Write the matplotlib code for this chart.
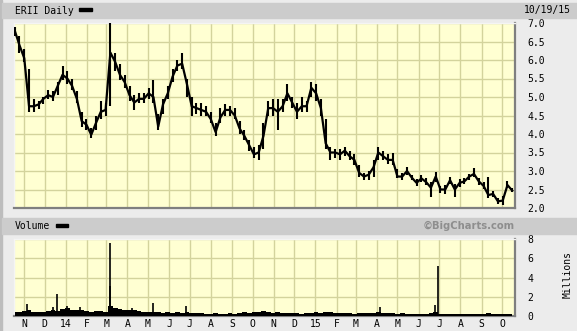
import numpy as np
import pandas as pd
import matplotlib
matplotlib.use("Agg")
import matplotlib.pyplot as plt
from matplotlib.patches import Rectangle

plt.rcParams["font.family"] = ["DejaVu Sans Mono"]

# weekly readings (Fridays), price in $ and daily volume level in millions
weeks = pd.date_range("2013-10-18", periods=105, freq="W-FRI")

close = [6.8, 6.4, 6.05, 4.75, 4.75, 4.8, 4.95, 5.05, 5.0, 5.3,
         5.6, 5.5, 5.3, 4.95, 4.35, 4.25, 3.98, 4.3, 4.6, 4.65,
         6.2, 5.95, 5.6, 5.4, 5.05, 4.85, 4.95, 4.95, 5.1, 5.0,
         4.2, 4.8, 5.1, 5.55, 5.85, 5.9, 5.35, 4.75, 4.7, 4.65,
         4.6, 4.4, 4.05, 4.45, 4.65, 4.65, 4.5, 4.15, 3.95, 3.7,
         3.45, 3.5, 3.95, 4.7, 4.7, 4.6, 4.75, 5.1, 4.85, 4.6,
         4.75, 4.75, 5.25, 5.1, 4.7, 3.75, 3.5, 3.5, 3.45, 3.55,
         3.4, 3.3, 2.95, 2.85, 2.9, 3.1, 3.5, 3.4, 3.3, 3.3,
         2.85, 2.85, 3.0, 2.82, 2.68, 2.8, 2.7, 2.55, 2.85, 2.5,
         2.5, 2.75, 2.5, 2.68, 2.72, 2.85, 2.92, 2.72, 2.6, 2.35,
         2.38, 2.18, 2.2, 2.62, 2.47]

high = [6.9, 6.65, 6.3, 5.75, 4.95, 4.9, 5.0, 5.2, 5.15, 5.4,
        5.85, 5.7, 5.5, 5.15, 4.6, 4.4, 4.15, 4.5, 4.9, 4.85,
        7.0, 6.2, 5.9, 5.6, 5.3, 5.05, 5.1, 5.1, 5.25, 5.45,
        4.55, 4.95, 5.3, 5.75, 6.0, 6.2, 5.5, 5.0, 4.85, 4.85,
        4.75, 4.6, 4.3, 4.7, 4.8, 4.75, 4.7, 4.35, 4.1, 3.85,
        3.65, 3.7, 4.3, 4.9, 4.95, 4.95, 4.95, 5.35, 5.0, 4.85,
        5.0, 4.9, 5.4, 5.35, 4.95, 4.4, 3.65, 3.6, 3.6, 3.65,
        3.55, 3.45, 3.15, 2.95, 3.0, 3.3, 3.65, 3.55, 3.45, 3.5,
        3.05, 2.95, 3.1, 2.9, 2.78, 2.9, 2.8, 2.7, 2.98, 2.6,
        2.62, 2.85, 2.65, 2.78, 2.8, 2.92, 3.08, 2.82, 2.7, 2.85,
        2.45, 2.28, 2.32, 2.72, 2.55]

low = [6.65, 6.2, 5.95, 4.6, 4.6, 4.68, 4.8, 4.95, 4.9, 5.05,
       5.45, 5.35, 5.2, 4.85, 4.2, 4.1, 3.88, 4.1, 4.4, 4.5,
       4.75, 5.7, 5.45, 5.25, 4.9, 4.65, 4.85, 4.85, 4.95, 4.85,
       4.1, 4.55, 4.95, 5.4, 5.7, 5.75, 5.0, 4.5, 4.55, 4.5,
       4.5, 4.3, 3.95, 4.3, 4.5, 4.5, 4.4, 4.0, 3.85, 3.55,
       3.35, 3.3, 3.6, 4.5, 4.5, 4.1, 4.6, 4.9, 4.7, 4.4,
       4.6, 4.6, 5.0, 4.9, 4.5, 3.6, 3.3, 3.35, 3.3, 3.4,
       3.3, 3.15, 2.85, 2.75, 2.75, 2.85, 3.3, 3.3, 3.2, 3.15,
       2.8, 2.75, 2.9, 2.75, 2.6, 2.7, 2.62, 2.3, 2.7, 2.4,
       2.38, 2.65, 2.3, 2.58, 2.65, 2.75, 2.85, 2.62, 2.52, 2.28,
       2.3, 2.12, 2.08, 2.55, 2.42]

volume = [0.4, 0.45, 0.55, 0.6, 0.45, 0.4, 0.45, 0.55, 0.6, 0.5,
          0.7, 0.8, 0.65, 0.6, 0.65, 0.5, 0.45, 0.55, 0.5, 0.45,
          1.0, 0.8, 0.7, 0.65, 0.6, 0.65, 0.5, 0.45, 0.4, 0.45,
          0.4, 0.35, 0.4, 0.35, 0.4, 0.35, 0.45, 0.35, 0.3, 0.3,
          0.25, 0.25, 0.3, 0.25, 0.25, 0.3, 0.25, 0.35, 0.4, 0.35,
          0.45, 0.4, 0.5, 0.45, 0.35, 0.4, 0.35, 0.35, 0.3, 0.35,
          0.25, 0.3, 0.35, 0.4, 0.35, 0.45, 0.4, 0.35, 0.3, 0.3,
          0.3, 0.25, 0.35, 0.3, 0.3, 0.35, 0.4, 0.35, 0.3, 0.3,
          0.25, 0.3, 0.25, 0.25, 0.25, 0.2, 0.25, 0.35, 0.4, 0.25,
          0.2, 0.2, 0.25, 0.2, 0.25, 0.2, 0.2, 0.25, 0.2, 0.3,
          0.2, 0.2, 0.2, 0.2, 0.2]

spike_dates = pd.to_datetime(["2013-11-05", "2013-12-13", "2013-12-19", "2014-01-02",
                              "2014-01-21", "2014-03-06", "2014-03-07", "2014-04-07",
                              "2014-05-08", "2014-06-25", "2015-04-06", "2015-06-25",
                              "2015-06-30"])
spike_vols = [1.25, 0.9, 2.3, 1.0, 0.9, 7.6, 3.1, 0.8, 1.35, 1.0, 0.9, 1.15, 5.2]

month_labels = ["N", "D", "14", "F", "M", "A", "M", "J", "J", "A", "S", "O",
                "N", "D", "15", "F", "M", "A", "M", "J", "J", "A", "S", "O"]
months = pd.date_range("2013-11-01", periods=24, freq="MS")

W, H = 577, 331
bg = "#ececec"
bar = "#cccccc"
panel = "#ffffd2"
grid = "#d3d39c"
edge = "#7f7f7f"


def box(x0, y0, x1, y1):
    return [x0 / W, 1 - y1 / H, (x1 - x0) / W, (y1 - y0) / H]


def rect(x0, y0, x1, y1, c):
    fig.patches.append(Rectangle((x0 / W, 1 - y1 / H), (x1 - x0) / W, (y1 - y0) / H,
                                 transform=fig.transFigure, color=c, zorder=0))


fig = plt.figure(figsize=(W / 100, H / 100), dpi=100, facecolor=bg)

# header bars and left border
rect(0, 0, 2, H, "#bdbdbd")
rect(2, 3, W, 18, bar)
rect(2, 218, W, 234, bar)
rect(79, 8, 92, 11, "black")
rect(56, 224, 68, 227, "black")

fig.text(15 / W, 1 - 10.5 / H, "ERII Daily", size=7, va="center")
fig.text(571 / W, 1 - 10.5 / H, "10/19/15", size=7, va="center", ha="right")
fig.text(15 / W, 1 - 226 / H, "Volume", size=7, va="center")
fig.text(515 / W, 1 - 225.5 / H, "\u00a9BigCharts.com", size=7.2, va="center", ha="right",
         family="DejaVu Sans", weight="bold", color="#8e8e8e")
fig.text(568 / W, 1 - 275 / H, "Millions", size=7, va="center", ha="center", rotation=90)

xmin, xmax = pd.Timestamp("2013-10-17"), pd.Timestamp("2015-10-20")

ax = fig.add_axes(box(14, 23, 515, 208), facecolor=panel)
ax.vlines(weeks, low, high, color="black", lw=1.5, zorder=3)
ax.plot(weeks, close, color="black", lw=1.6, zorder=3)
ax.set_xlim(xmin, xmax)
ax.set_ylim(2.0, 7.0)
ax.set_xticks(months)
ax.set_xticklabels([])
ax.set_yticks(np.arange(2.0, 7.01, 0.5))
ax.set_yticklabels(["%.1f" % v for v in np.arange(2.0, 7.01, 0.5)])
ax.yaxis.tick_right()
ax.tick_params(length=0, labelsize=7, pad=9)
ax.grid(color=grid, lw=1)

ax2 = fig.add_axes(box(14, 239, 515, 316), facecolor=panel)
ax2.fill_between(weeks, 0, volume, step="mid", color="black", lw=0, zorder=3)
ax2.vlines(spike_dates, 0, spike_vols, color="black", lw=1.2, zorder=3)
ax2.set_xlim(xmin, xmax)
ax2.set_ylim(0, 8)
ax2.set_yticks([0, 2, 4, 6, 8])
ax2.yaxis.tick_right()
ax2.set_xticks(months)
ax2.set_xticklabels(month_labels)
ax2.tick_params(length=0, labelsize=7, pad=9)
ax2.tick_params(axis="x", pad=2)
ax2.grid(color=grid, lw=1)

for a in (ax, ax2):
    a.set_axisbelow(True)
    for s in ("left", "top"):
        a.spines[s].set_color("#f4f4f4")
        a.spines[s].set_linewidth(1)
    for s in ("right", "bottom"):
        a.spines[s].set_color(edge)
        a.spines[s].set_linewidth(1.6)

fig.savefig("out.png", dpi=100, facecolor=bg)
